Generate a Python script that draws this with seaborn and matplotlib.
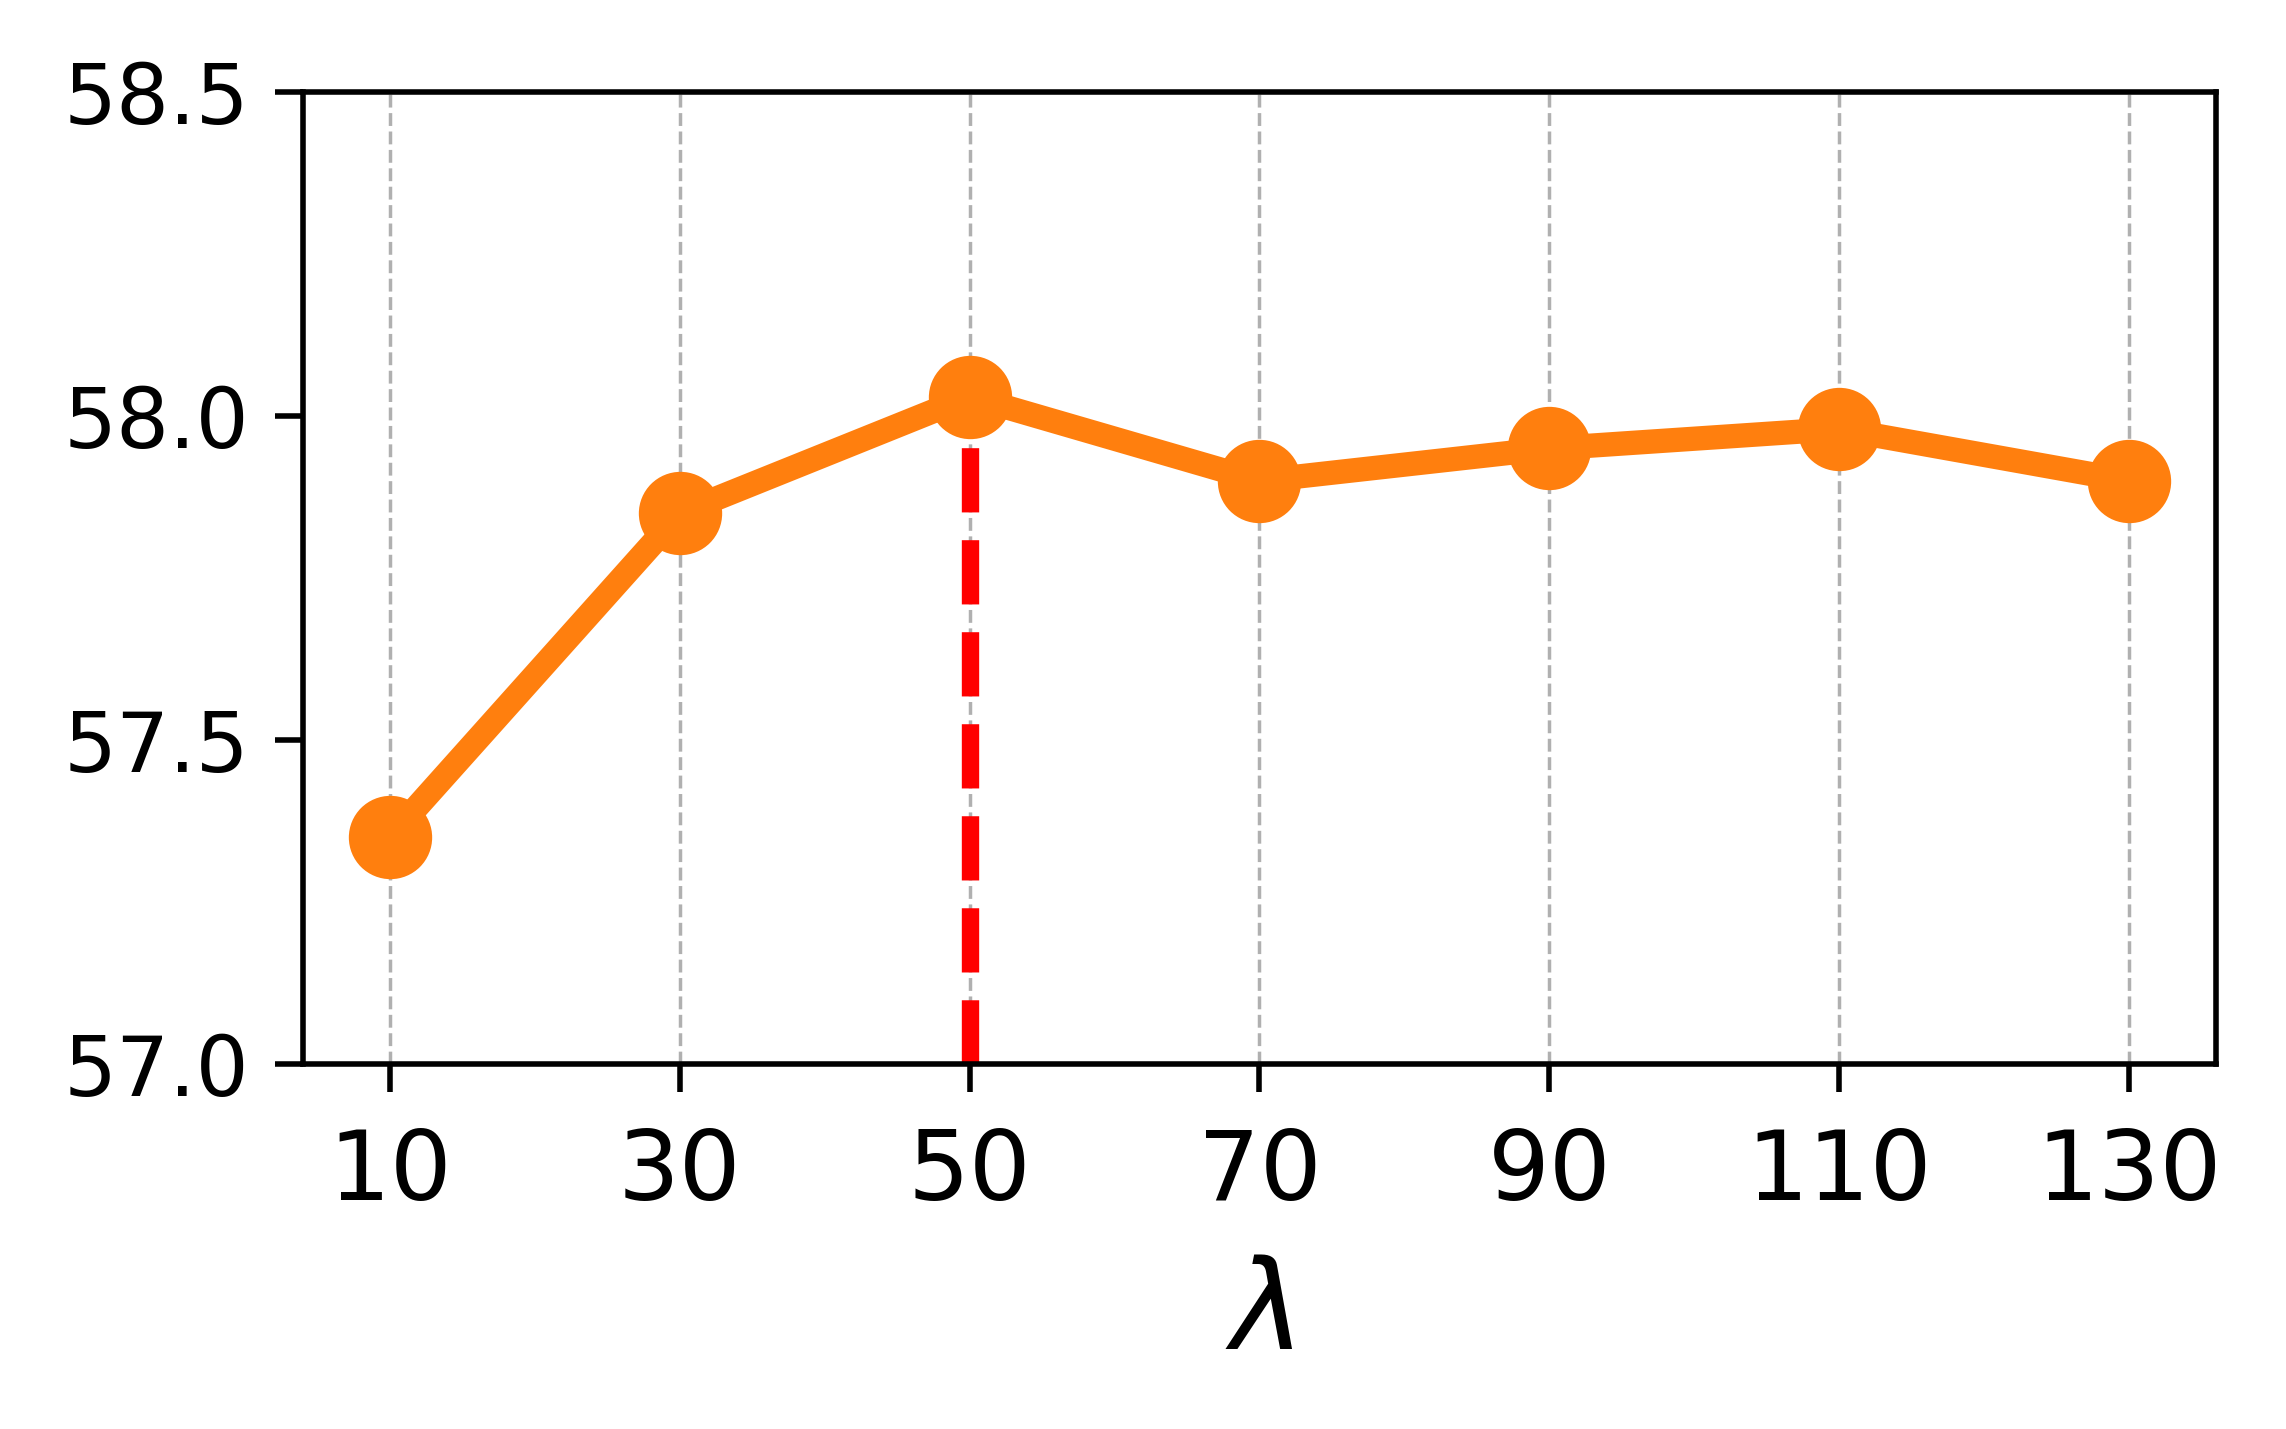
import pandas as pd
import seaborn as sns
import matplotlib.pyplot as plt

# Valores
lambdas = [10, 30, 50, 70, 90, 110, 130]
scores = [57.35, 57.85, 58.03, 57.90, 57.95, 57.98, 57.90]
best_lambda = 50
best_score = 58.03
y_ticks = [57.0, 57.5, 58.0, 58.5]

df = pd.DataFrame({"lambda": lambdas, "score": scores})

sns.set_theme(style="ticks")
plt.rcParams["font.family"] = ["DejaVu Sans"]
plt.rcParams["mathtext.fontset"] = "dejavusans"
plt.rcParams["text.color"] = "black"
plt.rcParams["axes.labelcolor"] = "black"
plt.rcParams["xtick.color"] = "black"
plt.rcParams["ytick.color"] = "black"

fig, ax = plt.subplots(figsize=(4.572, 2.858), dpi=500)
fig.subplots_adjust(left=0.1325, right=0.9694, top=0.9356, bottom=0.2554)

# linha vertical no melhor valor
ax.vlines(best_lambda, y_ticks[0], best_score, colors="red",
          linestyles="--", linewidth=2.5, zorder=2)

sns.lineplot(
    data=df, x="lambda", y="score", ax=ax,
    color="#ff7f0e", linewidth=3.5, marker="o", markersize=12,
    markeredgewidth=0, zorder=3,
)

ax.set_ylim(57.0, 58.5)
ax.set_yticks(y_ticks)
ax.set_xticks(lambdas)
ax.set_xlabel(r"$\lambda$", fontsize=18, labelpad=5)
ax.set_ylabel("")
ax.tick_params(axis="y", labelsize=12, length=4, width=0.8, pad=3.7)
ax.tick_params(axis="x", labelsize=14, length=4, width=0.8, pad=5)
for s in ax.spines.values():
    s.set_color("black")
    s.set_linewidth(0.8)

ax.xaxis.grid(True, linestyle="--", linewidth=0.5, color="#b0b0b0", zorder=0)
ax.yaxis.grid(False)
ax.set_axisbelow(True)

plt.savefig("out.png", dpi=500)
plt.close()
